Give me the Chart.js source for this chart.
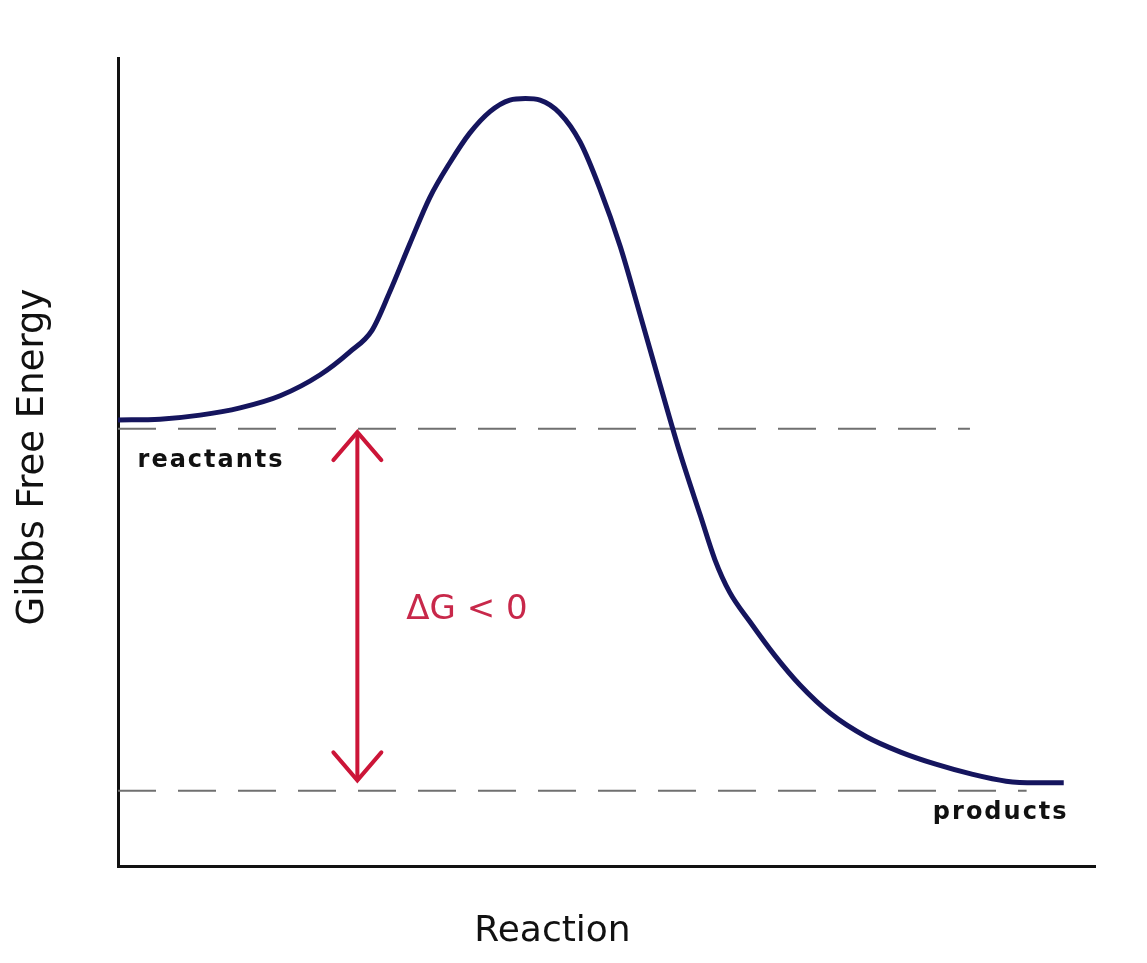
<!DOCTYPE html>
<html>
<head>
<meta charset="utf-8">
<script src="https://cdn.jsdelivr.net/npm/chart.js@4/dist/chart.umd.min.js"></script>
<style>
html,body{margin:0;padding:0;background:#fff;}
#wrap{width:1147px;height:963px;position:relative;}
</style>
</head>
<body>
<div id="wrap"><canvas id="c" width="1147" height="963"></canvas></div>
<script>
// Reaction coordinate (x) and Gibbs free energy (y), arbitrary units
const reactionX = [0, 0.43, 0.84, 1.25, 1.66, 2.07, 2.37, 2.60, 2.78, 2.99, 3.19, 3.40, 3.60, 3.81, 4.01, 4.17, 4.32, 4.52, 4.73, 4.93, 5.14, 5.34, 5.55, 5.75, 5.96, 6.11, 6.26, 6.47, 6.72, 6.98, 7.29, 7.66, 8.01, 8.37, 8.73, 9.09, 9.39, 9.68];
const energyY   = [5.52, 5.53, 5.58, 5.67, 5.82, 6.08, 6.36, 6.63, 7.10, 7.71, 8.27, 8.71, 9.07, 9.34, 9.48, 9.50, 9.48, 9.32, 8.96, 8.39, 7.67, 6.84, 5.95, 5.12, 4.34, 3.79, 3.39, 3.02, 2.61, 2.24, 1.89, 1.60, 1.41, 1.26, 1.14, 1.05, 1.03, 1.03];
const reactantsLevel = [5.41, 5.41];
const reactantsSpan  = [0, 8.72];
const productsLevel  = [0.93, 0.93];
const productsSpan   = [0, 9.3];
const arrowX = [2.45, 2.45];
const arrowY = [5.37, 1.06];
const labels = {x: "Reaction", y: "Gibbs Free Energy", reactants: "reactants", products: "products", dG: "ΔG < 0"};

const curve = reactionX.map((x, i) => ({x, y: energyY[i]}));
const rLine = reactantsSpan.map((x, i) => ({x, y: reactantsLevel[i]}));
const pLine = productsSpan.map((x, i) => ({x, y: productsLevel[i]}));
const arrow = arrowX.map((x, i) => ({x, y: arrowY[i]}));

const textPlugin = {
  id: 'texts',
  afterDatasetsDraw(chart) {
    const {ctx, chartArea: a, scales: {x, y}} = chart;
    ctx.save();
    // arrow heads
    ctx.strokeStyle = '#cc1538';
    ctx.lineWidth = 4;
    ctx.lineCap = 'round';
    const ax = x.getPixelForValue(arrowX[0]);
    const top = y.getPixelForValue(arrowY[0]);
    const bot = y.getPixelForValue(arrowY[1]);
    ctx.beginPath();
    ctx.moveTo(ax - 24, top + 28); ctx.lineTo(ax, top); ctx.lineTo(ax + 24, top + 28);
    ctx.moveTo(ax - 24, bot - 28); ctx.lineTo(ax, bot); ctx.lineTo(ax + 24, bot - 28);
    ctx.stroke();

    // annotation labels
    ctx.fillStyle = '#111';
    ctx.font = 'bold 24px "DejaVu Sans"';
    ctx.letterSpacing = '2px';
    ctx.textBaseline = 'middle';
    ctx.textAlign = 'left';
    ctx.fillText(labels.reactants, x.getPixelForValue(0.2), y.getPixelForValue(reactantsLevel[0]) + 32);
    ctx.textAlign = 'right';
    ctx.fillText(labels.products, x.getPixelForValue(9.73), y.getPixelForValue(productsLevel[0]) + 22);
    ctx.letterSpacing = '0px';

    ctx.fillStyle = '#c8284a';
    ctx.font = '34px "DejaVu Sans"';
    ctx.textAlign = 'left';
    ctx.fillText(labels.dG, x.getPixelForValue(2.95), y.getPixelForValue(3.17));

    // axis titles
    ctx.fillStyle = '#111';
    ctx.font = '36px "DejaVu Sans"';
    ctx.textAlign = 'center';
    ctx.fillText(labels.x, (a.left + a.right) / 2 - 54, a.bottom + 66);
    ctx.save();
    ctx.font = '37px "DejaVu Sans"';
    ctx.translate(a.left - 85, (a.top + a.bottom) / 2 - 5);
    ctx.rotate(-Math.PI / 2);
    ctx.fillText(labels.y, 0, 0);
    ctx.restore();
    ctx.restore();
  }
};

new Chart(document.getElementById('c'), {
  type: 'line',
  data: {
    datasets: [
      {data: rLine, borderColor: '#707070', borderWidth: 2, borderDash: [38, 22], pointRadius: 0, order: 3},
      {data: pLine, borderColor: '#707070', borderWidth: 2, borderDash: [38, 22], pointRadius: 0, order: 3},
      {data: arrow, borderColor: '#cc1538', borderWidth: 4, pointRadius: 0, order: 2},
      {data: curve, borderColor: '#15155e', borderWidth: 5, pointRadius: 0, cubicInterpolationMode: 'monotone', order: 1}
    ]
  },
  options: {
    responsive: false,
    animation: false,
    events: [],
    layout: {padding: {left: 118, right: 52, top: 58, bottom: 97}},
    plugins: {legend: {display: false}, tooltip: {enabled: false}, title: {display: false}},
    scales: {
      x: {type: 'linear', min: 0, max: 10,
          ticks: {display: false}, grid: {display: false, drawTicks: false},
          border: {display: true, color: '#111', width: 3}},
      y: {type: 'linear', min: 0, max: 10,
          ticks: {display: false}, grid: {display: false, drawTicks: false},
          border: {display: true, color: '#111', width: 3}}
    }
  },
  plugins: [textPlugin]
});
</script>
</body>
</html>
